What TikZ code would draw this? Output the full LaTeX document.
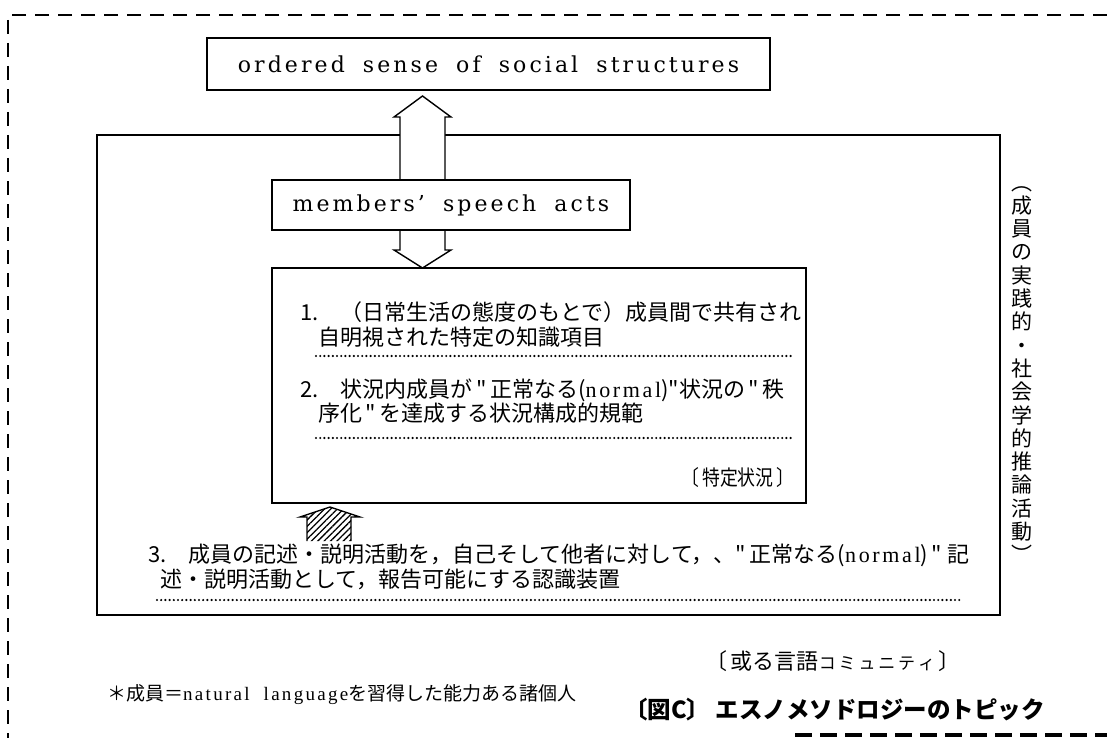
\documentclass[tikz,border=0pt]{standalone}
\usepackage{fontspec}
\setmainfont{Liberation Serif}
\newfontfamily\jp{Noto Sans CJK JP}
\newfontfamily\en{DejaVu Serif}[LetterSpace=14, WordSpace=1.8]
\newfontfamily\enn{Liberation Serif}[LetterSpace=12]
\usetikzlibrary{patterns.meta,calc}
\begin{document}
\begin{tikzpicture}[x=1pt,y=-1pt,
  frame/.style={draw, line width=1.4pt, inner sep=0pt},
  dotline/.style={line width=2.4pt, dash pattern=on 0pt off 4.2pt, line cap=round},
  outer/.style={line width=1.3pt, dash pattern=on 14pt off 9pt},
  jptext/.style={anchor=base west, inner sep=0pt, font=\jp\fontsize{22}{24}\selectfont},
  entext/.style={inner sep=0pt, font=\en\fontsize{22}{24}\selectfont},
  hollow/.style={draw, line width=1.4pt, fill=white, line join=miter}
]
\useasboundingbox (0,0) rectangle (1107,738);
% outer dashed frame
\coordinate (otl) at (8,15);
\coordinate (otr) at (1107,15);
\coordinate (obl) at (8,738);
\coordinate (bbl) at (795,735);
\coordinate (bbr) at (1107,735);
\draw[outer] (otr) -- (otl) -- (obl);
\draw[line width=3.5pt, dash pattern=on 17pt off 8pt] (bbl) -- (bbr);

% boxes
\node[frame, minimum width=563pt, minimum height=52pt] (top) at (488.5,64) {};
\node[entext] at (top.center) {ordered sense of social structures};
\node[frame, minimum width=903pt, minimum height=480pt] (big) at (548.5,375) {};
\node[frame, minimum width=534pt, minimum height=235pt] (inner) at (539,385.5) {};

% upper double arrow (hollow), shaft over big box line
\path[hollow] (400,180) -- (400,117) -- (394,117) -- (422.5,96) -- (451,117) -- (445,117) -- (445,180);
\fill[white] (401,117) rectangle (444,181);
\node[frame, fill=white, minimum width=358pt, minimum height=50pt] (mem) at (451,205) {};
\node[entext] at (mem.center) {members’ speech acts};
% lower arrow
\path[hollow] (400,231) -- (400,250) -- (394,250) -- (422.5,268) -- (451,250) -- (445,250) -- (445,231);
\draw[line width=1.4pt] (mem.south west) -- (mem.south east);

% items inside inner box
\node[jptext] (i1a) at (300,320) {1.\quad（日常生活の態度のもとで）成員間で共有され};
\node[jptext] (i1b) at (318,345) {自明視された特定の知識項目};
\coordinate (d1a) at (316,356); \coordinate (d1b) at (793,356);
\draw[dotline] (d1a) -- (d1b);
\node[jptext] (i2a) at (300,397) {2.\quad 状況内成員が\,"\,正常なる({\enn normal})"状況の\,"\,秩};
\node[jptext] (i2b) at (318,421) {序化\,"\,を達成する状況構成的規範};
\coordinate (d2a) at (316,438); \coordinate (d2b) at (793,438);
\draw[dotline] (d2a) -- (d2b);
\node[inner sep=0pt, anchor=base, font=\jp\fontsize{21}{23}\selectfont] (tokutei) at (738,485) {\scalebox{0.85}[1]{〔\,特定状況\,〕}};

% hatched arrow
\draw[line width=1.4pt, pattern={Lines[angle=45,distance=4.5pt,line width=1.3pt]}]
  (307,541) -- (307,517) -- (300,517) -- (330,507) -- (360,517) -- (351,517) -- (351,541);

% item 3
\node[jptext] (i3a) at (148,562) {3.\quad 成員の記述・説明活動を，自己そして他者に対して，、"\,正常なる({\enn normal})\," 記};
\node[jptext] (i3b) at (160,587) {述・説明活動として，報告可能にする認識装置};
\coordinate (d3a) at (157,600); \coordinate (d3b) at (962,600);
\draw[dotline] (d3a) -- (d3b);

% vertical text
\node[inner sep=0pt, anchor=north, align=center, font=\jp\fontsize{21}{23.3}\selectfont] (vert) at (1022,186)
  {︵\\成\\員\\の\\実\\践\\的\\・\\社\\会\\学\\的\\推\\論\\活\\動\\︶};

% labels below
\node[jptext] (comm) at (705,669) {〔\,或る言語{\fontsize{17}{19}\selectfont コ\,ミ\,ュ\,ニ\,テ\,ィ}\,〕};
\node[jptext, font=\jp\fontsize{19}{21}\selectfont] (note) at (107,700) {＊成員＝{\enn\fontsize{19}{21}\selectfont natural\ \ language}を習得した能力ある諸個人};
\node[jptext, font=\jp\bfseries\fontsize{23.5}{26}\selectfont] (title) at (624,718) {〔図C〕\ エスノメソドロジーのトピック};
\end{tikzpicture}
\end{document}
